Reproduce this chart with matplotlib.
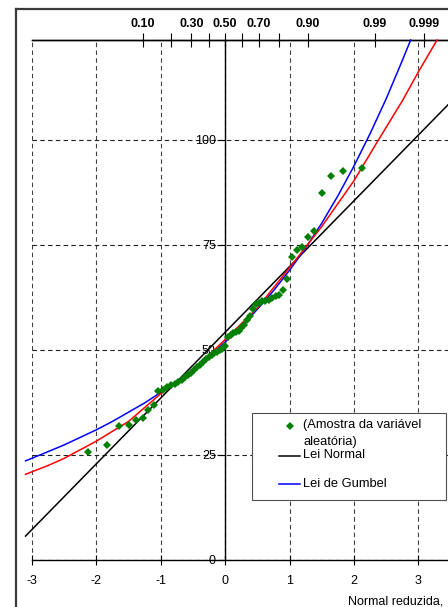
import matplotlib
matplotlib.use("Agg")
import matplotlib.pyplot as plt
from matplotlib.lines import Line2D
from matplotlib.patches import Rectangle

plt.rcParams['font.family'] = ['Liberation Sans', 'DejaVu Sans']
plt.rcParams['axes.unicode_minus'] = False

# sample (normal reduced variate, value), sorted
z_sample = [-2.128, -1.834, -1.645, -1.501, -1.383, -1.282, -1.192, -1.111, -1.036, -0.967,
            -0.903, -0.842, -0.783, -0.728, -0.674, -0.623, -0.573, -0.524, -0.477, -0.431,
            -0.385, -0.341, -0.297, -0.253, -0.210, -0.168, -0.126, -0.084, -0.042, 0.000,
            0.042, 0.084, 0.126, 0.168, 0.210, 0.253, 0.297, 0.341, 0.385, 0.431,
            0.477, 0.524, 0.573, 0.623, 0.674, 0.728, 0.783, 0.842, 0.903, 0.967,
            1.036, 1.111, 1.192, 1.282, 1.383, 1.501, 1.645, 1.834, 2.128]
sample = [25.8, 27.3, 32.0, 32.2, 33.3, 33.8, 35.7, 36.9, 40.2, 40.5,
          41.1, 41.6, 42.0, 42.4, 42.9, 43.5, 44.1, 44.6, 45.2, 45.9,
          46.5, 47.2, 47.8, 48.3, 48.7, 49.2, 49.6, 50.0, 50.3, 50.9,
          53.2, 53.6, 54.0, 54.3, 54.6, 55.2, 56.0, 57.1, 58.1, 59.7,
          60.9, 61.3, 61.6, 61.7, 62.0, 62.4, 62.8, 63.2, 64.2, 67.0,
          72.1, 73.7, 74.5, 77.0, 78.3, 87.3, 91.4, 92.6, 93.4]

# Lei Normal
z_normal = [-3.1, 3.5]
y_normal = [5.7, 109.0]

# Lei de Gumbel
z_gumbel = [-3.1, -2.75, -2.5, -2.25, -2.0, -1.75, -1.5, -1.25, -1.0, -0.75, -0.5, -0.25,
            0.0, 0.25, 0.5, 0.75, 1.0, 1.25, 1.5, 1.75, 2.0, 2.25, 2.5, 2.75, 2.88]
y_gumbel = [23.6, 25.8, 27.4, 29.2, 31.0, 33.0, 35.2, 37.4, 39.9, 42.5, 45.4, 48.5,
            51.9, 55.6, 59.7, 64.1, 69.0, 74.3, 80.2, 86.7, 93.8, 101.5, 109.8, 118.9, 123.8]

# red curve
z_red = [-3.1, -2.75, -2.5, -2.0, -1.5, -1.0, -0.5, 0.0, 0.5, 1.0, 1.5, 2.0, 2.36, 2.75, 3.0, 3.29]
y_red = [20.4, 22.5, 24.2, 28.3, 33.0, 39.6, 45.2, 52.5, 60.0, 69.6, 79.4, 90.3, 99.5, 109.3, 116.2, 123.8]

# top axis: probabilities
prob_pos = [-1.2816, -0.8416, -0.5244, -0.2533, 0.0, 0.2533, 0.5244, 0.8416, 1.2816, 2.3263, 3.0902]
prob_labels = ["0.10", "", "0.30", "", "0.50", "", "0.70", "", "0.90", "0.99", "0.999"]

W, H = 448, 607
def fx(px):
    return px / W
def fy(py):
    return 1 - py / H

fig = plt.figure(figsize=(4.48, 6.07), dpi=100)
ax = fig.add_axes([fx(32), fy(560), fx(448) - fx(32), (560 - 40) / H])
ax.set_xlim(-3, 3.46)
ax.set_ylim(0, 123.8)

ax.spines['right'].set_visible(False)
ax.spines['left'].set_position(('data', 0))
for s in ['left', 'top', 'bottom']:
    ax.spines[s].set_linewidth(1.0)

ax.set_xticks(range(-3, 4))
ax.set_yticks([0, 25, 50, 75, 100])
ax.tick_params(axis='x', direction='inout', length=7, width=0.8, pad=7.5, labelsize=9)
ax.tick_params(axis='y', direction='out', length=5.8, width=0.8, pad=1, labelsize=9)
ax.grid(axis='x', ls=(0, (4, 3)), lw=0.8, color='#404040')
ax.grid(axis='y', ls=(0, (4, 3)), lw=0.8, color='#202020')

sec = ax.secondary_xaxis('top')
sec.set_xticks(prob_pos, labels=prob_labels)
sec.tick_params(direction='inout', length=10, width=0.8, pad=2.5, labelsize=9)
for t in sec.get_xticklabels():
    t.set_fontweight('bold')
sec.spines['top'].set_linewidth(1.0)

ax.plot(z_normal, y_normal, color='black', lw=1.1, clip_on=False, zorder=3)
ax.plot(z_gumbel, y_gumbel, color='blue', lw=1.1, clip_on=False, zorder=3)
ax.plot(z_red, y_red, color='red', lw=1.1, clip_on=False, zorder=3)
ax.plot(z_sample, sample, ls='none', marker='D', ms=3.6, color='#008000', mew=0, zorder=4)

# legend
fig.add_artist(Rectangle((fx(252), fy(500)), fx(446) - fx(252), (500 - 413) / H,
                         transform=fig.transFigure, fc='white', ec='#505050', lw=0.8, zorder=5))
fig.add_artist(Line2D([fx(290)], [fy(426)], transform=fig.transFigure, ls='none', marker='D',
                      ms=3.6, color='#008000', mew=0, zorder=6))
fig.add_artist(Line2D([fx(279), fx(300)], [fy(456)] * 2, transform=fig.transFigure,
                      color='black', lw=1.1, zorder=6))
fig.add_artist(Line2D([fx(279), fx(300)], [fy(484)] * 2, transform=fig.transFigure,
                      color='blue', lw=1.1, zorder=6))
fig.text(fx(303), fy(425), "(Amostra da variável", fontsize=9.3, va='center', zorder=7)
fig.text(fx(303), fy(442), "aleatória)", fontsize=9.3, va='center', zorder=7)
fig.text(fx(303), fy(455), "Lei Normal", fontsize=9.3, va='center', zorder=7)
fig.text(fx(303), fy(484), "Lei de Gumbel", fontsize=9.3, va='center', zorder=7)

fig.text(fx(348), fy(601), "Normal reduzida,", fontsize=9, va='center')

# outer frame
fig.add_artist(Line2D([fx(15.5), fx(15.5)], [fy(8.5), 0], transform=fig.transFigure,
                      color='#3a3a3a', lw=1.6))
fig.add_artist(Line2D([fx(15.5), 1], [fy(8.5), fy(8.5)], transform=fig.transFigure,
                      color='#3a3a3a', lw=1.6))

fig.savefig("out.png", dpi=100)
